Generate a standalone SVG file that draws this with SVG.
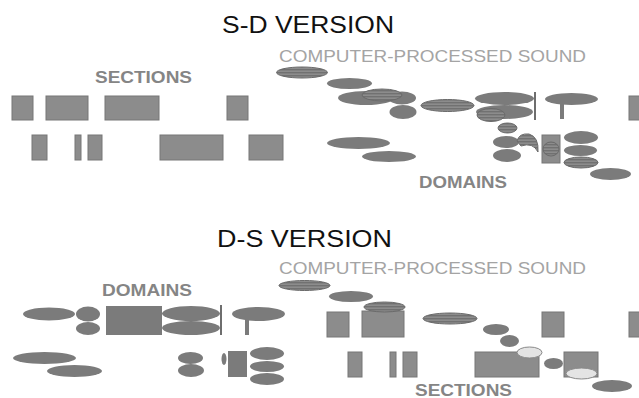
<svg xmlns="http://www.w3.org/2000/svg" width="639" height="398" viewBox="0 0 639 398">
  <defs>
    <pattern id="stripes" width="4" height="3" patternUnits="userSpaceOnUse">
      <rect width="4" height="3" fill="#8c8c8c"/>
      <rect width="4" height="1.4" fill="#717171"/>
    </pattern>
  </defs>
  <style>
    .title { font-family: "Liberation Sans", Arial, sans-serif; font-size: 24px; fill: #111; }
    .cps { font-family: "Liberation Sans", Arial, sans-serif; font-size: 17px; fill: #a4a4a4; }
    .lbl { font-family: "Liberation Sans", Arial, sans-serif; font-size: 16px; font-weight: bold; fill: #858585; }
    .sec { fill: #8c8c8c; stroke: #767676; stroke-width: 1; }
    .dom { fill: #7b7b7b; }
    .str { fill: url(#stripes); stroke: #6a6a6a; stroke-width: 1; }
    .bar { fill: #6e6e6e; }
    .hi { fill: #e4e4e4; stroke: #8a8a8a; stroke-width: 1; }
  </style>

  <rect width="639" height="398" fill="#ffffff"/>

  <!-- ===== upper panel: sections then domains ===== -->
  <g id="sd-labels">
    <text class="title" x="222" y="33" textLength="172" lengthAdjust="spacingAndGlyphs">S-D VERSION</text>
    <text class="cps" x="279" y="62" textLength="307" lengthAdjust="spacingAndGlyphs">COMPUTER-PROCESSED SOUND</text>
    <text class="lbl" x="95" y="83" textLength="97" lengthAdjust="spacingAndGlyphs">SECTIONS</text>
    <text class="lbl" x="419" y="188" textLength="88" lengthAdjust="spacingAndGlyphs">DOMAINS</text>
  </g>

  <g id="sd-sections">
    <rect class="sec" x="12" y="96" width="21" height="24"/>
    <rect class="sec" x="46" y="96" width="42" height="24"/>
    <rect class="sec" x="105" y="96" width="54" height="24"/>
    <rect class="sec" x="227" y="96" width="21" height="24"/>
    <rect class="sec" x="629" y="96" width="14" height="24"/>
    <rect class="sec" x="32" y="135" width="15" height="25"/>
    <rect class="sec" x="75" y="135" width="6" height="25"/>
    <rect class="sec" x="88" y="135" width="14" height="25"/>
    <rect class="sec" x="160" y="135" width="63" height="25"/>
    <rect class="sec" x="249" y="135" width="34" height="25"/>
  </g>

  <g id="sd-domains">
    <ellipse class="dom" cx="366" cy="98" rx="28" ry="7"/>
    <ellipse class="dom" cx="402" cy="98" rx="14" ry="6.5"/>
    <ellipse class="dom" cx="403" cy="112" rx="13.5" ry="7"/>
    <ellipse class="dom" cx="504.5" cy="98.5" rx="29.5" ry="6.5"/>
    <ellipse class="dom" cx="504.5" cy="112" rx="28.5" ry="7"/>
    <rect class="bar" x="534" y="92" width="2" height="28"/>
    <ellipse class="dom" cx="571.5" cy="99" rx="26.5" ry="6"/>
    <rect class="dom" x="560" y="104" width="4" height="15"/>
    <ellipse class="dom" cx="506" cy="142" rx="13" ry="6"/>
    <ellipse class="dom" cx="507" cy="155.5" rx="14" ry="6.5"/>
    <path class="str" d="M517,141 Q519,133 529,134 Q539,137 538,152 Q533,142 521,146 Z"/>
    <rect class="sec" x="542" y="135" width="18" height="28"/>
    <ellipse class="str" cx="551" cy="149" rx="8" ry="7"/>
    <ellipse class="dom" cx="581" cy="137.5" rx="17" ry="6.5"/>
    <ellipse class="dom" cx="580.5" cy="150.5" rx="16.5" ry="5.5"/>
    <ellipse class="dom" cx="358.5" cy="143" rx="31.5" ry="6"/>
    <ellipse class="dom" cx="389" cy="156.5" rx="27" ry="5.5"/>
  </g>

  <g id="sd-sound">
    <ellipse class="str" cx="302" cy="72.5" rx="25.5" ry="5.5"/>
    <ellipse class="dom" cx="349.5" cy="83.5" rx="22.5" ry="5.5"/>
    <ellipse class="str" cx="382" cy="95" rx="20" ry="6"/>
    <ellipse class="str" cx="447.5" cy="105.5" rx="26.5" ry="6"/>
    <ellipse class="str" cx="491" cy="115" rx="14" ry="6.5"/>
    <ellipse class="str" cx="507.5" cy="128" rx="9.5" ry="5"/>
    <ellipse class="str" cx="581" cy="162.5" rx="17" ry="5.5"/>
    <ellipse class="dom" cx="610.5" cy="174" rx="20.5" ry="6"/>
  </g>

  <!-- ===== lower panel: domains then sections ===== -->
  <g id="ds-labels">
    <text class="title" x="217" y="247" textLength="175" lengthAdjust="spacingAndGlyphs">D-S VERSION</text>
    <text class="cps" x="279" y="274" textLength="307" lengthAdjust="spacingAndGlyphs">COMPUTER-PROCESSED SOUND</text>
    <text class="lbl" x="102" y="296" textLength="90" lengthAdjust="spacingAndGlyphs">DOMAINS</text>
    <text class="lbl" x="415" y="396" textLength="97" lengthAdjust="spacingAndGlyphs">SECTIONS</text>
  </g>

  <g id="ds-domains">
    <ellipse class="dom" cx="49" cy="314" rx="26" ry="6.5"/>
    <ellipse class="dom" cx="88" cy="314" rx="12" ry="7.5"/>
    <ellipse class="dom" cx="88" cy="328.5" rx="12" ry="6.5"/>
    <rect class="dom" x="106" y="306" width="56" height="29"/>
    <ellipse class="dom" cx="191" cy="313.5" rx="29" ry="7.5"/>
    <ellipse class="dom" cx="191" cy="328" rx="29" ry="7"/>
    <rect class="bar" x="220" y="305" width="2" height="30"/>
    <ellipse class="dom" cx="258.5" cy="314" rx="26.5" ry="7"/>
    <rect class="dom" x="245" y="320" width="4" height="15"/>
    <ellipse class="dom" cx="44.5" cy="358" rx="31.5" ry="6"/>
    <ellipse class="dom" cx="74.5" cy="371" rx="27.5" ry="6"/>
    <ellipse class="dom" cx="190.5" cy="358" rx="12.5" ry="6"/>
    <ellipse class="dom" cx="191" cy="370.5" rx="13" ry="6.5"/>
    <ellipse class="dom" cx="224" cy="359" rx="2.5" ry="6"/>
    <rect class="dom" x="228" y="351" width="19" height="26"/>
    <ellipse class="dom" cx="267" cy="353.5" rx="17" ry="6.5"/>
    <ellipse class="dom" cx="267" cy="366.5" rx="17" ry="5.5"/>
    <ellipse class="dom" cx="267" cy="379" rx="17" ry="6"/>
  </g>

  <g id="ds-sections">
    <rect class="sec" x="327" y="312" width="22" height="25"/>
    <rect class="sec" x="362" y="311" width="42" height="26"/>
    <rect class="sec" x="542" y="312" width="22" height="25"/>
    <rect class="sec" x="629" y="312" width="14" height="25"/>
    <rect class="sec" x="348" y="352" width="14" height="25"/>
    <rect class="sec" x="390" y="352" width="6" height="25"/>
    <rect class="sec" x="403" y="352" width="14" height="25"/>
    <rect class="sec" x="475" y="352" width="64" height="25"/>
    <rect class="sec" x="564" y="352" width="34" height="25"/>
  </g>

  <g id="ds-sound">
    <ellipse class="str" cx="304.5" cy="285.5" rx="25.5" ry="5"/>
    <ellipse class="dom" cx="351" cy="296.5" rx="22" ry="5.5"/>
    <ellipse class="str" cx="384.5" cy="307" rx="20.5" ry="5"/>
    <ellipse class="str" cx="450" cy="318.5" rx="27" ry="5.5"/>
    <ellipse class="dom" cx="496" cy="329.5" rx="13" ry="5.5"/>
    <ellipse class="dom" cx="509.5" cy="341" rx="9.5" ry="6"/>
    <ellipse class="hi" cx="529.5" cy="352.5" rx="12.5" ry="5.5"/>
    <ellipse class="dom" cx="553.5" cy="363.5" rx="9.5" ry="5.5"/>
    <ellipse class="hi" cx="581.5" cy="373.5" rx="15.5" ry="5.5"/>
    <ellipse class="dom" cx="612" cy="386" rx="20" ry="6"/>
  </g>
</svg>
